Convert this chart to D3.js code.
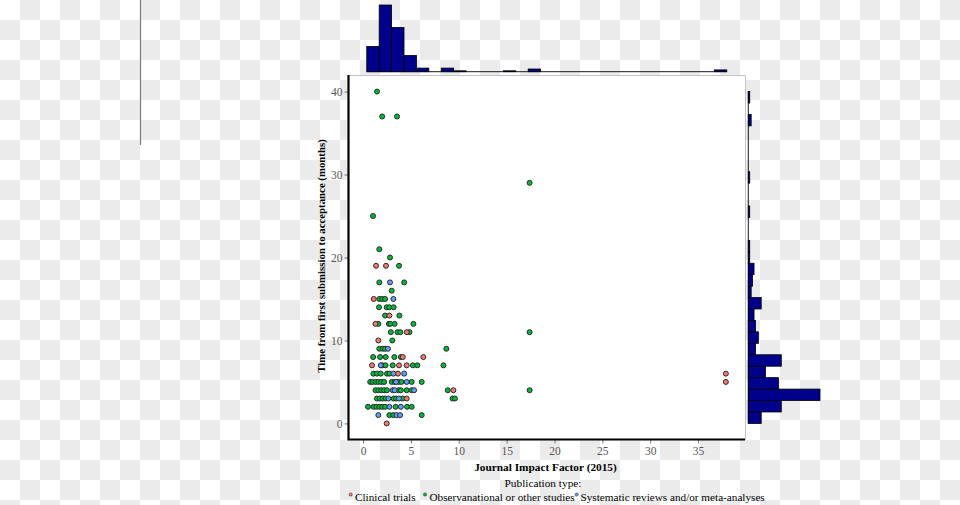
<!DOCTYPE html>
<html>
<head>
<meta charset="utf-8">
<script src="https://cdn.jsdelivr.net/npm/d3@7"></script>
<style>
  html, body { margin: 0; padding: 0; }
  body {
    width: 960px; height: 505px;
    background-color: #ffffff;
    background-image: repeating-conic-gradient(#ebebeb 0% 25%, #ffffff 0% 50%);
    background-size: 40px 40px;
  }
  svg { display: block; }
  text { font-family: "Liberation Serif", "Times New Roman", serif; }
</style>
</head>
<body>
<svg id="chart" width="960" height="505"></svg>
<script>
// ---------------- DATA ----------------
const seriesNames = ["Clinical trials", "Observanational or other studies", "Systematic reviews and/or meta-analyses"];
const seriesColors = ["#F8766D", "#00BA38", "#619CFF"];

// [Journal Impact Factor, months]
const clinical = [
  [1.36,19],[2.4,19],[1.12,15],[2.75,13],[1.3,12],[4.57,11],[1.6,10],
  [4.15,8],[6.3,8],[0.94,7],[3.76,7],[4.56,7],[3.65,6],[9.44,4],[4.56,3],
  [2.47,0],[37.9,6],[37.9,5]
];
const observational = [
  [1.46,40],[2.0,37],[3.55,37],[17.4,29],[1.04,25],[1.7,21],[2.82,20],[3.76,19],
  [1.7,17],[4.3,17],[3.0,16],
  [1.7,15],[2.0,15],[2.3,15],
  [1.67,14],[2.47,14],[2.75,14],[3.2,14],
  [2.3,13],[3.8,13],
  [1.6,12],[2.7,12],[2.85,12],[3.3,12],[5.26,12],
  [2.9,11],[3.6,11],[3.9,11],[4.85,11],[17.4,11],
  [3.06,10],
  [1.7,9],[2.05,9],[2.3,9],[8.7,9],
  [1.05,8],[1.78,8],[2.37,8],[3.27,8],[3.95,8],
  [2.0,7],[2.35,7],[3.1,7],[5.2,7],[5.67,7],[8.4,7],
  [1.08,6],[1.45,6],[1.85,6],[2.5,6],[2.75,6],
  [0.75,5],[1.0,5],[1.3,5],[1.6,5],[1.9,5],[2.2,5],[3.0,5],[3.3,5],[3.7,5],[4.0,5],[5.08,5],[6.13,5],
  [1.3,4],[1.6,4],[1.9,4],[2.2,4],[2.5,4],[3.7,4],[3.95,4],[4.56,4],[5.08,4],[8.85,4],[17.4,4],
  [1.45,3],[1.75,3],[2.05,3],[2.35,3],[3.2,3],[3.45,3],[4.15,3],[9.35,3],[9.6,3],
  [0.52,2],[1.1,2],[1.4,2],[1.7,2],[2.0,2],[2.3,2],[3.4,2],[4.6,2],[5.08,2],
  [2.75,1],[3.15,1],[6.13,1]
];
const systematic = [
  [2.82,17],[3.17,15],[2.6,9],[1.85,7],[3.17,6],[4.3,6],[3.45,5],[4.56,5],
  [3.1,4],[3.3,4],[5.33,4],[2.65,3],[3.75,3],[2.75,2],[3.95,2],[1.6,1],[3.5,1],[3.87,1]
];

// Marginal histograms (counts per bin, 29 bins each)
const topBinDomain = [0.39, 38.0];   // impact factor
const topCounts = [28,74,49,18,4,0,4,1,0,0,0,1,0,3,0,0,0,0,0,0,0,0,0,0,0,0,0,0,2];
const rightBinDomain = [0, 40];      // months
const rightCounts = [9,23,50,21,12,23,5,7,5,4,9,2,3,4,1,1,0,0,1,0,0,1,0,0,0,0,2,0,1];

const xTicks = [0,5,10,15,20,25,30,35];
const yTicks = [0,10,20,30,40];
const xTitle = "Journal Impact Factor (2015)";
const yTitle = "Time from first submission to acceptance (months)";
const legendTitle = "Publication type:";

// ---------------- LAYOUT ----------------
const svg = d3.select("#chart");
const panel = {left: 348, right: 745, top: 75, bottom: 440};

// stray vertical line at left
svg.append("line").attr("x1",140.5).attr("x2",140.5).attr("y1",0).attr("y2",145)
  .attr("stroke","#7a7a7a").attr("stroke-width",1.2);

const x = d3.scaleLinear().domain([-1.57, 39.9]).range([panel.left, panel.right]);
const y = d3.scaleLinear().domain([-2, 42]).range([panel.bottom, panel.top]);

// panel background
svg.append("rect").attr("x",panel.left).attr("y",panel.top)
  .attr("width",panel.right-panel.left).attr("height",panel.bottom-panel.top)
  .attr("fill","#ffffff");
// thin top/right border
svg.append("path")
  .attr("d",`M${panel.left},${panel.top+0.5}H${panel.right+0.5}V${panel.bottom}`)
  .attr("fill","none").attr("stroke","#c4c4c4").attr("stroke-width",1);

// ---------------- POINTS ----------------
const groups = [
  {data: observational, color: seriesColors[1]},
  {data: clinical, color: seriesColors[0]},
  {data: systematic, color: seriesColors[2]}
];
groups.forEach(g => {
  svg.append("g").selectAll("circle").data(g.data).join("circle")
    .attr("cx", d => x(d[0])).attr("cy", d => y(d[1]))
    .attr("r", 2.5)
    .attr("fill", g.color)
    .attr("stroke", "#2a2a2a").attr("stroke-width", 1);
});

// ---------------- AXES ----------------
const xAxis = svg.append("g").attr("transform",`translate(0,${panel.bottom})`)
  .call(d3.axisBottom(x).tickValues(xTicks).tickSize(3.5).tickPadding(3));
const yAxis = svg.append("g").attr("transform",`translate(${panel.left},0)`)
  .call(d3.axisLeft(y).tickValues(yTicks).tickSize(3.5).tickPadding(2));
[xAxis, yAxis].forEach(a => {
  a.select(".domain").remove();
  a.selectAll(".tick line").attr("stroke","#555555").attr("stroke-width",0.8);
  a.selectAll(".tick text").attr("fill","#555555")
    .style("font-family",'"Liberation Serif", "Times New Roman", serif')
    .style("font-size","11.5px");
});
// thick axis lines
svg.append("path")
  .attr("d",`M${panel.left+0.5},${panel.top}V${panel.bottom-0.5}H${panel.right}`)
  .attr("fill","none").attr("stroke","#000000").attr("stroke-width",2.2);

svg.append("text").attr("x",(panel.left+panel.right)/2 - 1).attr("y",470.5)
  .attr("text-anchor","middle").attr("font-weight","bold").attr("font-size","11.3px")
  .attr("fill","#000").text(xTitle);
svg.append("text")
  .attr("transform",`translate(325,256) rotate(-90)`)
  .attr("text-anchor","middle").attr("font-weight","bold").attr("font-size","10.8px")
  .attr("fill","#000").text(yTitle);

// ---------------- MARGINAL HISTOGRAMS ----------------
const histFill = "#00008B";
// top
const topBins = d3.range(topCounts.length).map(i => {
  const w = (topBinDomain[1]-topBinDomain[0])/topCounts.length;
  return {x0: topBinDomain[0]+i*w, x1: topBinDomain[0]+(i+1)*w, n: topCounts[i]};
});
const topBase = 71.7;
const cTop = d3.scaleLinear().domain([0, d3.max(topCounts)]).range([topBase, 5]);
svg.append("line").attr("x1",x(topBinDomain[0])).attr("x2",x(topBinDomain[1]))
  .attr("y1",topBase).attr("y2",topBase).attr("stroke","#000").attr("stroke-width",0.9);
svg.append("g").selectAll("rect").data(topBins.filter(b => b.n > 0)).join("rect")
  .attr("x", d => x(d.x0)).attr("width", d => x(d.x1)-x(d.x0))
  .attr("y", d => cTop(d.n)).attr("height", d => topBase - cTop(d.n))
  .attr("fill", histFill).attr("stroke","#000").attr("stroke-width",0.8);

// right
const rightBins = d3.range(rightCounts.length).map(i => {
  const w = (rightBinDomain[1]-rightBinDomain[0])/rightCounts.length;
  return {y0: rightBinDomain[0]+i*w, y1: rightBinDomain[0]+(i+1)*w, n: rightCounts[i]};
});
const rightBase = 748.3;
const cRight = d3.scaleLinear().domain([0, d3.max(rightCounts)]).range([rightBase, 820]);
svg.append("line").attr("x1",rightBase).attr("x2",rightBase)
  .attr("y1",y(rightBinDomain[0])).attr("y2",y(rightBinDomain[1]))
  .attr("stroke","#000").attr("stroke-width",0.9);
svg.append("g").selectAll("rect").data(rightBins.filter(b => b.n > 0)).join("rect")
  .attr("x", rightBase).attr("width", d => cRight(d.n)-rightBase)
  .attr("y", d => y(d.y1)).attr("height", d => y(d.y0)-y(d.y1))
  .attr("fill", histFill).attr("stroke","#000").attr("stroke-width",0.8);

// ---------------- LEGEND ----------------
svg.append("text").attr("x",543).attr("y",486.5).attr("text-anchor","middle")
  .attr("font-size","11.3px").attr("fill","#000").text(legendTitle);
const legendItems = [
  {name: seriesNames[0], color: seriesColors[0], dot: 350.7, tx: 355},
  {name: seriesNames[1], color: seriesColors[1], dot: 425, tx: 429.5},
  {name: seriesNames[2], color: seriesColors[2], dot: 576.7, tx: 580.5}
];
const lg = svg.append("g");
legendItems.forEach(it => {
  lg.append("circle").attr("cx",it.dot).attr("cy",494.5).attr("r",1.6)
    .attr("fill",it.color).attr("stroke","#333").attr("stroke-width",0.6);
  lg.append("text").attr("x",it.tx).attr("y",500.5).attr("font-size","11.2px")
    .attr("fill","#000").text(it.name);
});
</script>
</body>
</html>
